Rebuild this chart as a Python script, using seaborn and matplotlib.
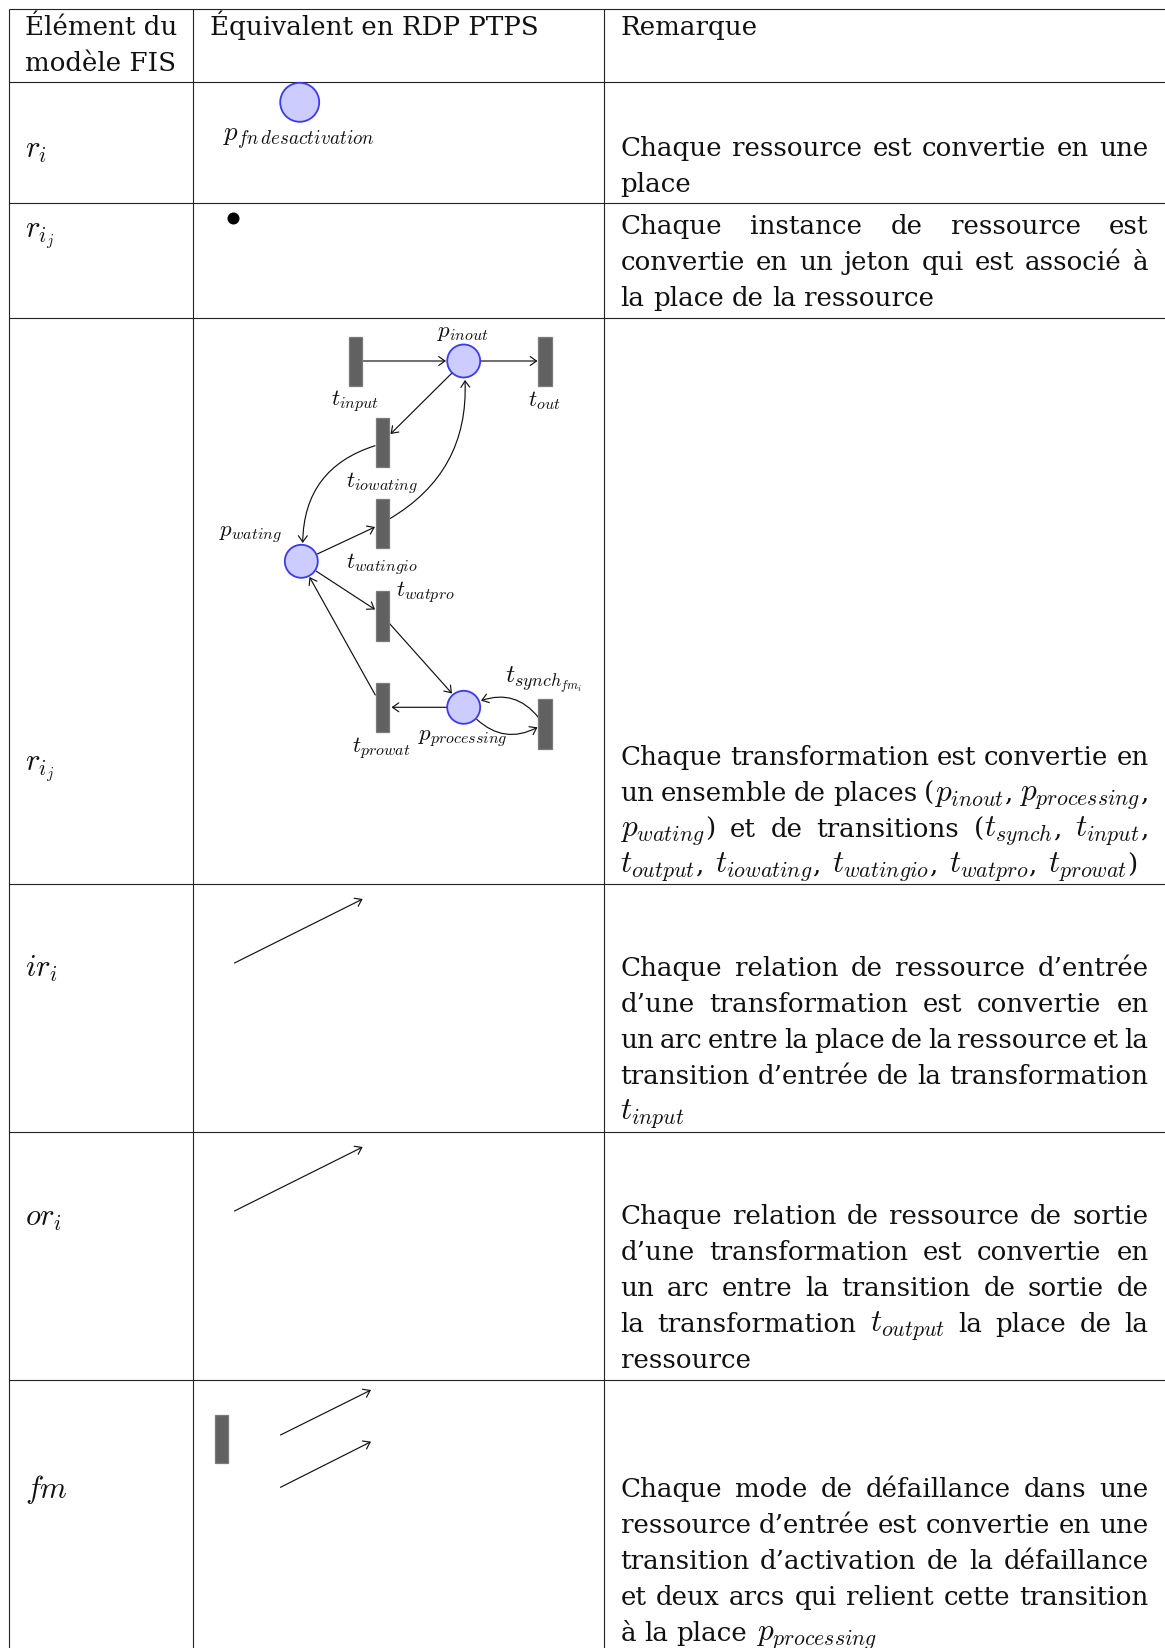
#!/usr/bin/env python3
"""Table of FIS model elements and their equivalent in PTPS Petri nets."""

import re

import matplotlib
matplotlib.use("Agg")
import matplotlib.patches as patches
import matplotlib.pyplot as plt
import pandas as pd
import seaborn as sns

# table structure
HEADER_COL1 = ["Élément du", "modèle FIS"]
HEADER_COL2 = "Équivalent en RDP PTPS"
HEADER_COL3 = "Remarque"
ELEMENTS = ["$r_i$", "$r_{i_j}$", "$r_{i_j}$", "$ir_i$", "$or_i$", "$fm$"]
ELEMENT_Y = [158, 237, 770, 977, 1226, 1498]

REMARKS = [
    ["Chaque ressource est convertie en une", "place"],
    ["Chaque instance de ressource est",
     "convertie en un jeton qui est associé à",
     "la place de la ressource"],
    ["Chaque transformation est convertie en",
     "un ensemble de places ($p_{inout}$, $p_{processing}$,",
     "$p_{wating}$) et de transitions ($t_{synch}$, $t_{input}$,",
     "$t_{output}$, $t_{iowating}$, $t_{watingio}$, $t_{watpro}$, $t_{prowat}$)"],
    ["Chaque relation de ressource d’entrée",
     "d’une transformation est convertie en",
     "un arc entre la place de la ressource et la",
     "transition d’entrée de la transformation",
     "$t_{input}$"],
    ["Chaque relation de ressource de sortie",
     "d’une transformation est convertie en",
     "un arc entre la transition de sortie de",
     "la transformation $t_{output}$ la place de la",
     "ressource"],
    ["Chaque mode de défaillance dans une",
     "ressource d’entrée est convertie en une",
     "transition d’activation de la défaillance",
     "et deux arcs qui relient cette transition",
     "à la place $p_{processing}$"],
]
REMARK_BASE = [156, 233.5, 765, 976, 1224, 1497]
# right end of the last line, where it is known to run wider than natural spacing
LAST_LINE_END = [None, None, 1137, None, None, None]

# grid, in pixels of the page
GRID_Y = [8.5, 81.5, 203, 317.5, 884, 1132, 1380]
GRID_X = [8.5, 192.5, 603.5]

# places: x, y, diameter in px
PLACE_X = [299.7, 463.7, 301.3, 463.7]
PLACE_Y = [102.3, 361, 561.3, 707.3]
PLACE_D = [39, 33, 33, 33]

# transitions: left, top, width, height
TRANS = [
    (349, 336.5, 13.3, 49.5),
    (538.3, 336.5, 13.3, 49.5),
    (376, 417.5, 13.3, 49.5),
    (376, 498.8, 13.3, 49.5),
    (376, 591, 13.3, 49.5),
    (376, 682.8, 13.3, 49.5),
    (538.3, 699, 13.3, 49.5),
    (215, 1414.5, 13, 48),
]

# arcs: start, end, bend
ARCS = [
    ((362, 361), (446, 361), 0),
    ((480.5, 361), (537.5, 361), 0),
    ((451.7, 373.3), (390.5, 434), 0),
    ((375, 445.7), (302.7, 543), 0.36),
    ((389.3, 519), (465, 380), 0.3),
    ((317.3, 554), (375, 527), 0),
    ((316, 571), (375, 609.5), 0),
    ((375.3, 695), (309.5, 577), 0),
    ((389.3, 623.3), (452, 693.5), 0),
    ((447.3, 707.3), (391.5, 707.3), 0),
    ((538.3, 717.3), (481, 700.7), 0.35),
    ((476.7, 719.3), (537.5, 727.3), 0.35),
    ((234.5, 963), (362.7, 899), 0),
    ((234.5, 1211), (362.7, 1147), 0),
    ((280.5, 1435), (371, 1390), 0),
    ((280.5, 1487.3), (371, 1441.7), 0),
]

# node labels: text, x, y, size
NODE_LABELS = [
    ("$p_{fn\\,desactivation}$", 298.5, 138, 19.5),
    ("$p_{inout}$", 462.7, 331.5, 16.5),
    ("$t_{input}$", 355, 401.5, 16.5),
    ("$t_{out}$", 544, 401, 16.5),
    ("$t_{iowating}$", 381.7, 484, 16.5),
    ("$p_{wating}$", 250.7, 535, 16.5),
    ("$t_{watingio}$", 381.7, 565, 16.5),
    ("$t_{watpro}$", 425, 592.5, 16.5),
    ("$t_{synch_{fm_i}}$", 543.3, 680, 18.5),
    ("$p_{processing}$", 462.7, 738.5, 16.5),
    ("$t_{prowat}$", 381.7, 748.5, 16.5),
]

TOKEN_XY = (233, 217.7)

BODY_SIZE = 18.85
MATH_SIZE = 22.5
LEFT, RIGHT = 620.5, 1148.5
LINE = 36

sns.set_theme(style="white")
plt.rcParams["font.family"] = ["DejaVu Serif"]
plt.rcParams["mathtext.fontset"] = "cm"

fig = plt.figure(figsize=(11.65, 16.48), dpi=100)
ax = fig.add_axes([0, 0, 1, 1])
ax.set_xlim(0, 1165)
ax.set_ylim(1648, 0)
ax.axis("off")
renderer = fig.canvas.get_renderer()


def pieces_of(word):
    return [p for p in re.split(r"(\$[^$]*\$)", word) if p]


def piece_width(piece):
    size = MATH_SIZE if piece.startswith("$") else BODY_SIZE
    t = ax.text(0, 0, piece, fontsize=size)
    w = t.get_window_extent(renderer).width
    t.remove()
    return w


def draw_word(x, y, word):
    for piece in pieces_of(word):
        size = MATH_SIZE if piece.startswith("$") else BODY_SIZE
        ax.text(x, y, piece, fontsize=size, va="baseline", ha="left", color="#111111")
        x += piece_width(piece)
    return x


def draw_remark(lines, base, last_end=None):
    natural = piece_width("a b") - piece_width("ab")
    for i, line in enumerate(lines):
        words = line.split(" ")
        widths = [sum(piece_width(p) for p in pieces_of(w)) for w in words]
        space = natural
        if i < len(lines) - 1 and len(words) > 1:
            space = (RIGHT - LEFT - sum(widths)) / (len(words) - 1)
        elif last_end is not None:
            space = (last_end - LEFT - sum(widths)) / (len(words) - 1)
        x = LEFT
        for word, w in zip(words, widths):
            draw_word(x, base + i * LINE, word)
            x += w + space


# grid
for y in GRID_Y:
    ax.hlines(y, GRID_X[0], 1165, color="#222222", lw=0.8)
for x in GRID_X:
    ax.vlines(x, GRID_Y[0], 1648, color="#222222", lw=0.8)

# header
for i, line in enumerate(HEADER_COL1):
    ax.text(25, 35 + i * 36, line, fontsize=BODY_SIZE, va="baseline", color="#111111")
ax.text(209.5, 35, HEADER_COL2, fontsize=BODY_SIZE, va="baseline", color="#111111")
ax.text(620.5, 35, HEADER_COL3, fontsize=BODY_SIZE, va="baseline", color="#111111")

# first column
for label, y in zip(ELEMENTS, ELEMENT_Y):
    ax.text(25, y, label, fontsize=22, va="baseline", color="#111111")

# third column
for lines, base, end in zip(REMARKS, REMARK_BASE, LAST_LINE_END):
    draw_remark(lines, base, end)

# places
places = pd.DataFrame({"x": PLACE_X, "y": PLACE_Y, "d": PLACE_D})
places["s"] = (places["d"] * 0.72) ** 2
sns.scatterplot(
    data=places, x="x", y="y", s=places["s"].to_numpy(), color="#CCCCFF",
    edgecolor="#3A3AF0", linewidth=1.3, legend=False, ax=ax, zorder=3,
)
sns.scatterplot(
    x=[TOKEN_XY[0]], y=[TOKEN_XY[1]], s=(12 * 0.72) ** 2, color="black",
    linewidth=0, legend=False, ax=ax, zorder=3,
)
ax.set_xlim(0, 1165)
ax.set_ylim(1648, 0)
ax.axis("off")

# transitions
for left, top, w, h in TRANS:
    ax.add_patch(patches.Rectangle(
        (left, top), w, h, facecolor="#616161", edgecolor="#7A7A7A", lw=0.9, zorder=3,
    ))

# arcs
for start, end, bend in ARCS:
    ax.add_patch(patches.FancyArrowPatch(
        start, end, arrowstyle="->,head_length=0.45,head_width=0.32", mutation_scale=10,
        lw=0.85, color="#111111", shrinkA=0, shrinkB=0,
        connectionstyle=f"arc3,rad={bend}", zorder=2,
    ))

for label, x, y, size in NODE_LABELS:
    ax.text(x, y, label, fontsize=size, ha="center", va="center", color="#111111")

fig.savefig("out.png", dpi=100, facecolor="white")
